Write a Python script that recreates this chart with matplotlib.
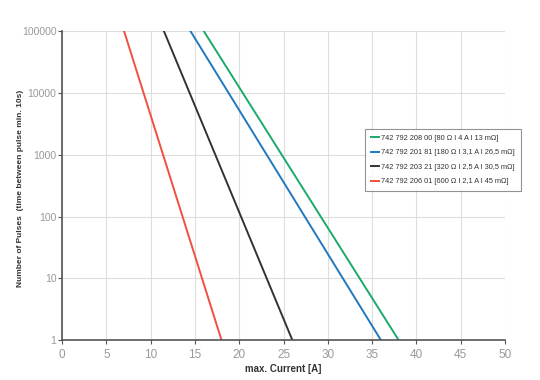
import matplotlib
matplotlib.use("Agg")
import matplotlib.pyplot as plt
from matplotlib.ticker import FixedLocator, FixedFormatter

# Data: (current at 100000 pulses, current at 1 pulse)
labels = [
    "742 792 208 00 [80 Ω I 4 A I 13 mΩ]",
    "742 792 201 81 [180 Ω I 3,1 A I 26,5 mΩ]",
    "742 792 203 21 [320 Ω I 2,5 A I 30,5 mΩ]",
    "742 792 206 01 [600 Ω I 2,1 A I 45 mΩ]",
]
colors = ["#1aaa6a", "#1f78c0", "#333333", "#f0503c"]
currents = [[16, 38], [14.5, 36], [11.5, 26], [7, 18]]
pulses = [100000, 1]

yticks = [1, 10, 100, 1000, 10000, 100000]
ytick_labels = ["1", "10", "100", "1000", "10000", "100000"]
xticks = [0, 5, 10, 15, 20, 25, 30, 35, 40, 45, 50]

plt.rcParams['font.family'] = ['Liberation Sans', 'DejaVu Sans']

fig = plt.figure(figsize=(5.4, 3.8), dpi=100)
ax = fig.add_axes([0.115, 0.105, 0.82, 0.813])

for lab, c, cur in zip(labels, colors, currents):
    ax.plot(cur, pulses, color=c, lw=1.4, label=lab)

ax.set_yscale('log')
ax.set_xlim(0, 50)
ax.set_ylim(1, 100000)
ax.yaxis.set_major_locator(FixedLocator(yticks))
ax.yaxis.set_major_formatter(FixedFormatter(ytick_labels))
ax.yaxis.set_minor_locator(FixedLocator([]))
ax.set_xticks(xticks)

ax.grid(True, color="#dddddd", lw=0.8)
ax.set_axisbelow(True)
for s in ['top', 'right']:
    ax.spines[s].set_visible(False)
for s in ['left', 'bottom']:
    ax.spines[s].set_color("#555555")
    ax.spines[s].set_linewidth(1.2)

ax.tick_params(axis='y', colors="#555555", labelcolor="#999999", labelsize=7.5, length=3, width=0.8, pad=1)
ax.tick_params(axis='x', colors="#555555", labelcolor="#999999", labelsize=8.5, length=3, width=0.8)

ax.set_xlabel("max. Current [A]", fontsize=7, fontweight='bold', color="#333333", labelpad=2)
ax.set_ylabel("Number of Pulses  (time between pulse min. 10s)", fontsize=6, fontweight='bold',
              color="#333333")
ax.yaxis.set_label_coords(-0.086, 0.49)

leg = ax.legend(loc='upper left', bbox_to_anchor=(0.670, 0.671), bbox_transform=fig.transFigure,
                fontsize=5.3, frameon=True, fancybox=False, handlelength=1.0, handletextpad=0.3,
                borderpad=0.8, labelspacing=1.0, edgecolor="#777777")
leg.get_frame().set_linewidth(0.8)
for t in leg.get_texts():
    t.set_color("#333333")

fig.savefig("out.png", dpi=100)
